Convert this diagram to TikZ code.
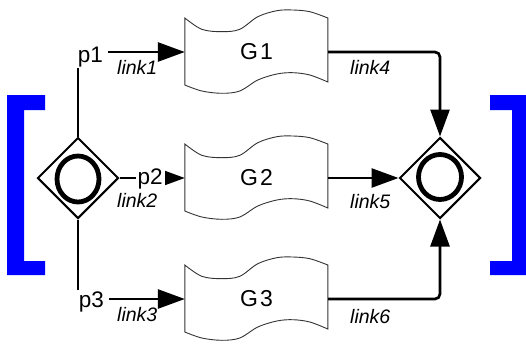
\documentclass[tikz,border=0pt]{standalone}
\usepackage{fontspec}
\setmainfont{Liberation Sans}
\usetikzlibrary{arrows.meta,shapes.geometric}
\newcommand\wavebox[1]{%
  \begin{scope}[shift={(#1.west)}]
    \draw[wavy] plot[smooth,tension=0.55] coordinates {(0,-34) (17,-22.7) (37,-20.3) (55,-22.7) (73,-35.3) (92,-41.3) (108,-42) (125,-40.3) (143,-34)}
      -- plot[smooth,tension=0.55] coordinates {(143,30) (125,23) (108,20.7) (92,22) (73,28) (55,39) (37,41.3) (17,39) (0,33)} -- cycle;
  \end{scope}}
\begin{document}
\begin{tikzpicture}[x=1pt,y=-1pt,
  conn/.style={line width=2.7pt, -{Triangle[length=27pt,width=19pt]}},
  gate/.style={diamond, draw, line width=2pt, minimum width=81pt, minimum height=81pt, inner sep=0pt},
  ring/.style={line width=4.8pt},
  gbox/.style={minimum width=143pt, minimum height=60pt, inner sep=0pt, font=\fontsize{23}{25}\selectfont},
  wavy/.style={draw=black!80, line width=0.9pt},
  plab/.style={fill=white, inner xsep=2pt, inner ysep=1pt, anchor=base west, font=\fontsize{22.5}{25}\selectfont},
  llab/.style={inner sep=0pt, anchor=base west, font=\fontsize{19.5}{22}\selectfont\itshape},
  bracket/.style={fill={rgb,255:red,0;green,0;blue,255}, draw=none}
]
\useasboundingbox (0,0) rectangle (526,345);
% brackets
\fill[bracket] (7,95) -- (45,95) -- (45,110) -- (24,110) -- (24,261) -- (45,261) -- (45,275) -- (7,275) -- cycle;
\fill[bracket] (490,95) -- (526,95) -- (526,275) -- (490,275) -- (490,261) -- (512,261) -- (512,110) -- (490,110) -- cycle;
% activity boxes
\node[gbox] (G1) at (256.5,52) {G\kern2pt 1};
\node[gbox] (G2) at (256.5,178) {G\kern2pt 2};
\node[gbox] (G3) at (256.5,299) {G\kern2pt 3};
\wavebox{G1}
\wavebox{G2}
\wavebox{G3}
% gateways
\node[gate] (dl) at (78,178) {};
\node[gate] (dr) at (440,178) {};
\draw[ring] ([yshift=-1pt]dl.center) ellipse [x radius=21pt, y radius=23pt];
\draw[ring] ([yshift=1pt]dr.center) ellipse [x radius=21.5pt, y radius=22.5pt];
% connectors
\draw[conn] (dl.north) |- (G1.west);
\draw[conn] (dl.east) -- (G2.west);
\draw[conn] (dl.south) |- (G3.west);
\draw[conn, rounded corners=5pt] (G1.east) -| (dr.north);
\draw[conn] (G2.east) -- (dr.west);
\draw[conn, rounded corners=5pt] (G3.east) -| (dr.south);
% labels
\node[plab] (p1) at (75.6,62) {p1\kern3pt};
\node[plab] (p2) at (135.5,184) {p2};
\node[plab] (p3) at (76.6,307) {p3\kern3pt};
\node[llab] (l1) at (117,74) {link1};
\node[llab] (l2) at (117,207) {link2};
\node[llab] (l3) at (117,321) {link3};
\node[llab] (l4) at (350,74) {link4};
\node[llab] (l5) at (350,208) {link5};
\node[llab] (l6) at (350,323) {link6};
\end{tikzpicture}
\end{document}
